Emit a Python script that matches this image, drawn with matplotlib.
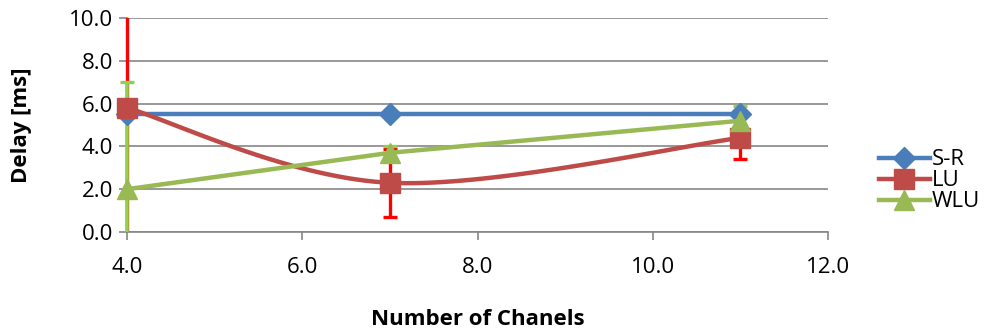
import numpy as np
import matplotlib.pyplot as plt
from matplotlib.lines import Line2D
from matplotlib.patches import Rectangle

# data
channels = [4, 7, 11]
sr_delay = [5.5, 5.5, 5.5]
lu_delay = [5.8, 2.3, 4.4]
lu_err = [6.0, 1.6, 1.0]
wlu_delay = [2.0, 3.7, 5.2]
wlu_err = [5.0, 0.3, 0.7]
x_ticks = [4.0, 6.0, 8.0, 10.0, 12.0]
y_ticks = [0.0, 2.0, 4.0, 6.0, 8.0, 10.0]


def smooth(x, y, n=40):
    # excel style smoothed line (catmull-rom bezier)
    pts = np.column_stack([np.asarray(x, float), np.asarray(y, float)])
    out = []
    for i in range(len(pts) - 1):
        p0 = pts[max(i - 1, 0)]
        p1 = pts[i]
        p2 = pts[i + 1]
        p3 = pts[min(i + 2, len(pts) - 1)]
        c1 = p1 + (p2 - p0) / 6.0
        c2 = p2 - (p3 - p1) / 6.0
        t = np.linspace(0, 1, n)[:, None]
        seg = ((1 - t) ** 3) * p1 + 3 * ((1 - t) ** 2) * t * c1 + 3 * (1 - t) * t ** 2 * c2 + t ** 3 * p2
        out.append(seg)
    seg = np.vstack(out)
    return seg[:, 0], seg[:, 1]


plt.rcParams['font.family'] = ['Open Sans', 'DejaVu Sans']

fig = plt.figure(figsize=(9.86, 3.32), dpi=100)
ax = fig.add_axes([0.1288, 0.3012, 0.7110, 0.6446])

blue = '#4A7EBB'
red = '#BE4B48'
green = '#98B954'

# clip error bars only vertically (the x=4 bars sit on the axes edge)
clip = Rectangle((-0.05, 0), 1.1, 1, transform=ax.transAxes, visible=False)
ax.add_patch(clip)

eb1 = ax.errorbar(channels, lu_delay, yerr=lu_err, fmt='none', ecolor='#FF0000',
                  elinewidth=2.4, capsize=5, capthick=2.4, zorder=3)
eb2 = ax.errorbar(channels, wlu_delay, yerr=wlu_err, fmt='none', ecolor='#92D050',
                  elinewidth=2.6, capsize=5, capthick=2.4, zorder=3)
for eb in (eb1, eb2):
    for art in list(eb.lines[1]) + list(eb.lines[2]):
        art.set_clip_path(clip)

ax.plot(channels, sr_delay, color=blue, lw=3.2, zorder=4, clip_on=False)
ax.plot(channels, sr_delay, ls='none', marker='D', ms=11, color=blue, zorder=4, clip_on=False)
sx, sy = smooth(channels, lu_delay)
ax.plot(sx, sy, color=red, lw=3.2, zorder=5, clip_on=False)
ax.plot(channels, lu_delay, ls='none', marker='s', ms=14, color=red, zorder=5, clip_on=False)
ax.plot(channels, wlu_delay, color=green, lw=3.2, zorder=6, clip_on=False)
ax.plot(channels, wlu_delay, ls='none', marker='^', ms=15, color=green, zorder=6, clip_on=False)

ax.set_xlim(4, 12)
ax.set_ylim(0, 10)
ax.set_xticks(x_ticks)
ax.set_yticks(y_ticks)
ax.set_xticklabels(['%.1f' % v for v in x_ticks])
ax.set_yticklabels(['%.1f' % v for v in y_ticks])
ax.tick_params(axis='both', labelsize=16, colors='#868686', labelcolor='black', length=6, width=1.2)
ax.tick_params(axis='x', pad=12)
ax.tick_params(axis='y', pad=4)
ax.grid(axis='y', color='#868686', lw=1.2)
ax.set_axisbelow(True)
for s in ['top', 'right']:
    ax.spines[s].set_visible(False)
for s in ['left', 'bottom']:
    ax.spines[s].set_color('#868686')
    ax.spines[s].set_linewidth(1.2)

ax.set_xlabel('Number of Chanels', fontsize=16, fontweight='bold')
ax.xaxis.set_label_coords(0.5, -0.36)
ax.set_ylabel('Delay [ms]', fontsize=16, fontweight='bold')
ax.yaxis.set_label_coords(-0.135, 0.5)

handles = [
    Line2D([], [], color=blue, lw=3.2, marker='D', ms=11),
    Line2D([], [], color=red, lw=3.2, marker='s', ms=14),
    Line2D([], [], color=green, lw=3.2, marker='^', ms=15),
]
fig.legend(handles, ['S-R', 'LU', 'WLU'], loc='center left', bbox_to_anchor=(0.882, 0.455),
           frameon=False, fontsize=16, handlelength=2.3, handletextpad=0.1,
           labelspacing=0.0, borderaxespad=0)

fig.savefig('out.png', dpi=100)
